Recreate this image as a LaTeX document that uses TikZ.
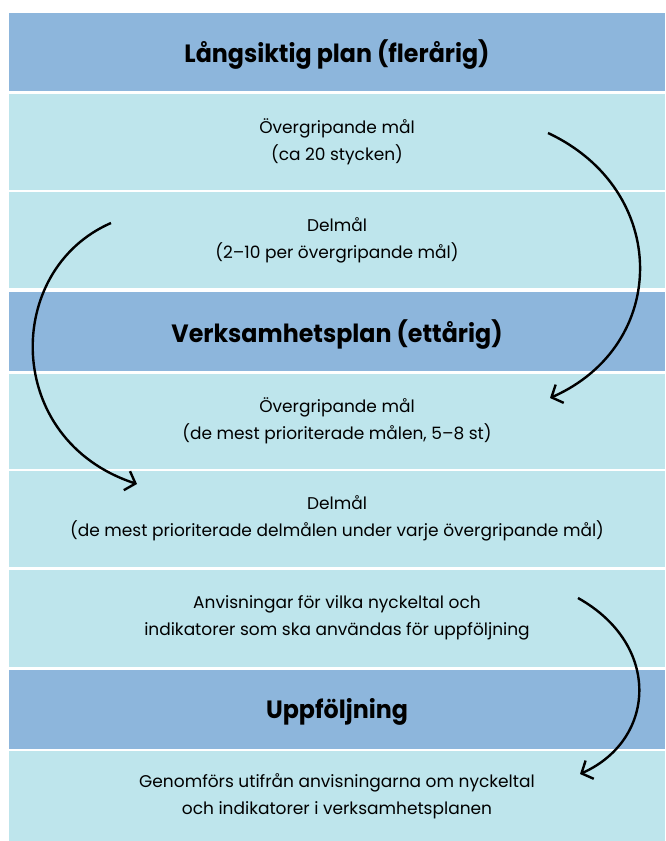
\documentclass[tikz,border=0pt]{standalone}
\usepackage{fontspec}
\setmainfont{Poppins}
\newfontfamily\headfont[FakeStretch=0.95]{Poppins}
\usetikzlibrary{arrows.meta}
\definecolor{darkband}{RGB}{141,182,220}
\definecolor{lightband}{RGB}{190,229,236}
\newcommand{\headtext}[1]{\raisebox{-3pt}[\height][\depth]{#1}}
\tikzset{
  band/.style={rectangle, inner sep=0pt, minimum width=656pt, align=center, text=black},
  headband/.style={band, fill=darkband, font=\headfont\bfseries\fontsize{25}{28}\selectfont},
  bodyband/.style={band, fill=lightband, font=\fontsize{17}{27}\selectfont},
  flow/.style={line width=2.4pt, -{Straight Barb[length=9pt,width=20pt,line width=2.4pt]}}
}
\begin{document}
\begin{tikzpicture}[x=1pt,y=-1pt]
\useasboundingbox[fill=white] (0,0) rectangle (665,841);
\node[headband, minimum height=78pt] (h1) at (337,52) {\headtext{Långsiktig plan (flerårig)}};
\node[bodyband, minimum height=95.5pt] (b1) at (337,141.75) {Övergripande mål\\(ca 20 stycken)};
\node[bodyband, minimum height=96pt] (b2) at (337,240) {Delmål\\(2–10 per övergripande mål)};
\node[headband, minimum height=78.5pt] (h2) at (337,331.25) {\headtext{Verksamhetsplan (ettårig)}};
\node[bodyband, minimum height=95pt] (b3) at (337,421) {Övergripande mål\\(de mest prioriterade målen, 5–8 st)};
\node[bodyband, minimum height=95.5pt] (b4) at (337,518.75) {Delmål\\(de mest prioriterade delmålen under varje övergripande mål)};
\node[bodyband, minimum height=97.5pt] (b5) at (337,618.25) {Anvisningar för vilka nyckeltal och\\indikatorer som ska användas för uppföljning};
\node[headband, minimum height=78.5pt] (h3) at (337,709.25) {\headtext{Uppföljning}};
\node[bodyband, minimum height=90pt] (b6) at (337,796) {Genomförs utifrån anvisningarna om nyckeltal\\och indikatorer i verksamhetsplanen};
\coordinate (a1s) at (548,133);
\coordinate (a1e) at (550,398);
\coordinate (a2s) at (111,223);
\coordinate (a2e) at (137,484);
\coordinate (a3s) at (578,598);
\coordinate (a3e) at (580,774);
\draw[flow] (a1s) .. controls (670,190) and (670,345) .. (a1e);
\draw[flow] (a2s) .. controls (3,270) and (3,440) .. (a2e);
\draw[flow] (a3s) .. controls (662,645) and (656,740) .. (a3e);
\end{tikzpicture}
\end{document}
